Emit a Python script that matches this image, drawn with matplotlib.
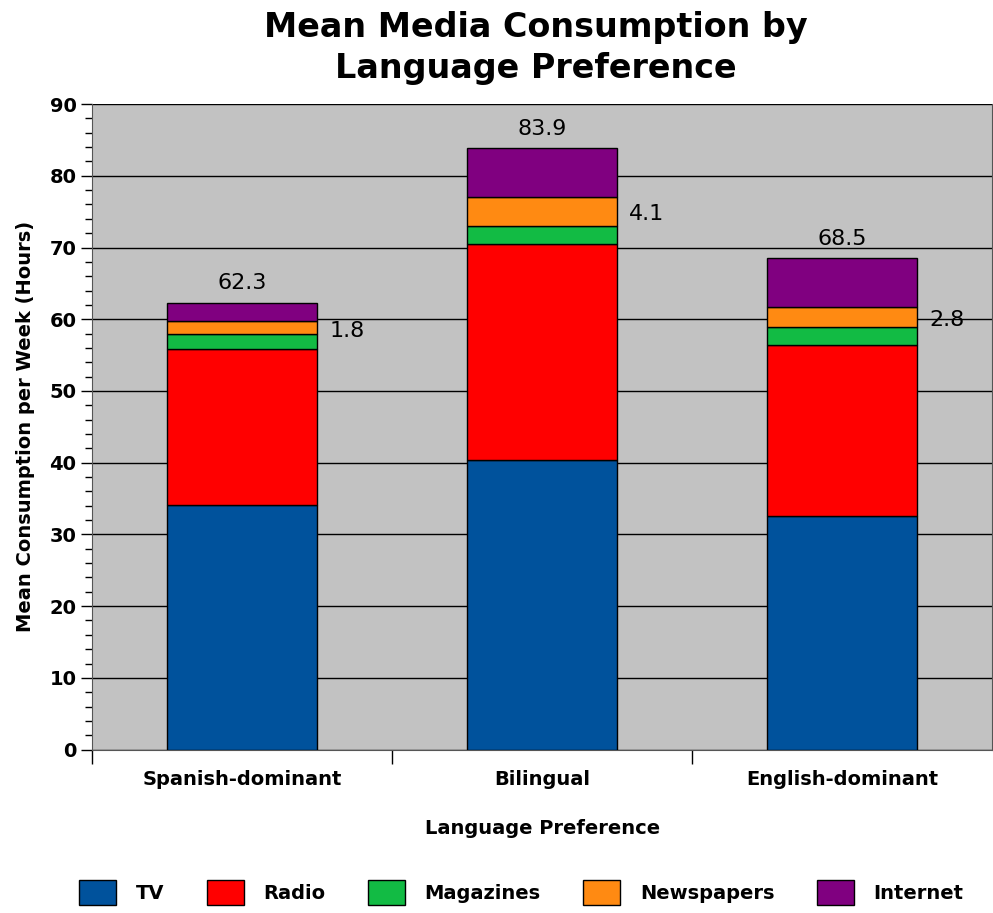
import matplotlib
matplotlib.use("Agg")
import matplotlib.pyplot as plt
from matplotlib.ticker import MultipleLocator, FixedLocator

groups = ["Spanish-dominant", "Bilingual", "English-dominant"]
media = ["TV", "Radio", "Magazines", "Newspapers", "Internet"]
tv = [34.1, 40.4, 32.5]
radio = [21.8, 30.1, 23.9]
magazines = [2.0, 2.5, 2.5]
newspapers = [1.8, 4.1, 2.8]
internet = [2.6, 6.8, 6.8]
totals = [62.3, 83.9, 68.5]
colors = ["#00529c", "#ff0000", "#12bb44", "#ff8a12", "#800080"]

plt.rcParams["font.family"] = ["DejaVu Sans"]

fig = plt.figure(figsize=(9.93, 9.13), dpi=100)
ax = fig.add_axes([0.093, 0.179, 0.906, 0.707])
ax.set_facecolor("#c2c2c2")

x = range(len(groups))
bottom = [0.0, 0.0, 0.0]
news_mid = []
for name, vals, c in zip(media, [tv, radio, magazines, newspapers, internet], colors):
    ax.bar(x, vals, width=0.5, bottom=bottom, color=c, edgecolor="black",
           linewidth=1, label=name, zorder=3)
    if name == "Newspapers":
        news_mid = [b + v / 2 for b, v in zip(bottom, vals)]
    bottom = [b + v for b, v in zip(bottom, vals)]

for i in x:
    ax.text(i, bottom[i] + 1.3, f"{totals[i]:.1f}", ha="center", va="bottom",
            fontsize=16, zorder=4)
    ax.text(i + 0.29, news_mid[i] - 0.4, f"{newspapers[i]:.1f}", ha="left",
            va="center", fontsize=16, zorder=4)

ax.set_xlim(-0.5, 2.5)
ax.set_ylim(0, 90)
ax.yaxis.set_major_locator(MultipleLocator(10))
ax.yaxis.set_minor_locator(MultipleLocator(2))
ax.grid(axis="y", color="black", linewidth=1, zorder=1)
ax.set_axisbelow(True)

ax.set_xticks(list(x))
ax.set_xticklabels(groups, fontsize=14, fontweight="bold")
ax.tick_params(axis="x", length=0, pad=15)
ax.xaxis.set_minor_locator(FixedLocator([-0.5, 0.5, 1.5]))
ax.tick_params(axis="x", which="minor", length=10, width=1, direction="out")
ax.tick_params(axis="y", which="major", length=8, width=1, labelsize=14)
ax.tick_params(axis="y", which="minor", length=5, width=1)
for lab in ax.get_yticklabels():
    lab.set_fontweight("bold")

ax.spines["top"].set_visible(False)
for side in ["left", "bottom", "right"]:
    ax.spines[side].set_color("#555555")

ax.set_xlabel("Language Preference", fontsize=14, fontweight="bold", labelpad=21)
ax.set_ylabel("Mean Consumption per Week (Hours)", fontsize=14, fontweight="bold",
              labelpad=10)
fig.suptitle("Mean Media Consumption by\nLanguage Preference", fontsize=24,
             fontweight="bold", y=0.988, x=0.54, linespacing=1.3)

handles, labels = ax.get_legend_handles_labels()
leg = fig.legend(handles, labels, loc="lower center", ncol=5, frameon=False,
                 bbox_to_anchor=(0.525, -0.01), fontsize=14, handlelength=1.9,
                 handleheight=1.6, columnspacing=2.2, handletextpad=1.0)
for t in leg.get_texts():
    t.set_fontweight("bold")

fig.savefig("out.png", dpi=100)
